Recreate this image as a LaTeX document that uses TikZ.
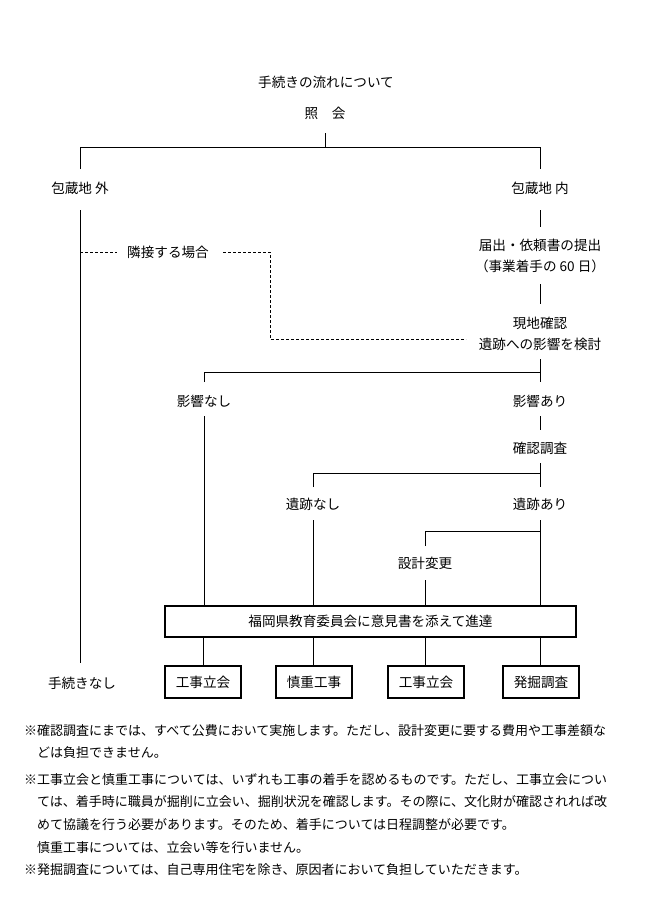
\documentclass[tikz,border=0pt]{standalone}
\usepackage{fontspec}
\setmainfont{Noto Sans CJK JP}
\newfontfamily\jp{Noto Sans CJK JP}
\begin{document}
\begin{tikzpicture}[x=1pt,y=-1pt,
  lab/.style={inner sep=0pt,font=\fontsize{13.6}{13.6}\selectfont\jp},
  box/.style={draw,line width=1.8pt,inner sep=0pt,font=\fontsize{13.6}{13.6}\selectfont\jp},
  note/.style={anchor=west,inner sep=0pt,font=\fontsize{13}{13}\selectfont\jp},
  ln/.style={line width=0.9pt},
  dsh/.style={line width=0.9pt,dash pattern=on 3pt off 2pt}]
\useasboundingbox (0,0) rectangle (650,908);
\fill[white] (0,0) rectangle (650,908);
\node[lab] (title) at (326,82) {手続きの流れについて};
\node[lab] (shokai) at (325,113) {照\hspace{1em}会};
\node[lab] (soto) at (80,188) {包蔵地 外};
\node[lab] (uchi) at (540,188) {包蔵地 内};
\node[lab,align=center] (todoke) at (540,256) {届出・依頼書の提出\\[8pt]（事業着手の 60 日）};
\node[lab,align=center] (genchi) at (540,334) {現地確認\\[8pt]遺跡への影響を検討};
\node[lab] (rinsetsu) at (168,252) {隣接する場合};
\node[lab] (einashi) at (204,401) {影響なし};
\node[lab] (eiari) at (540,401) {影響あり};
\node[lab] (kakunin) at (540,448) {確認調査};
\node[lab] (iseki0) at (313,504) {遺跡なし};
\node[lab] (iseki1) at (540,504) {遺跡あり};
\node[lab] (sekkei) at (425,563) {設計変更};
\node[lab] (nashi) at (82,683) {手続きなし};
\node[box,minimum width=411pt,minimum height=31pt] (shintatsu) at (370.5,621.5) {福岡県教育委員会に意見書を添えて進達};
\node[box,minimum width=76pt,minimum height=32pt] (b1) at (203,682) {工事立会};
\node[box,minimum width=76pt,minimum height=32pt] (b2) at (314,682) {慎重工事};
\node[box,minimum width=76pt,minimum height=32pt] (b3) at (426,682) {工事立会};
\node[box,minimum width=76pt,minimum height=32pt] (b4) at (541,682) {発掘調査};
% connectors
\coordinate (t0) at (325,147);
\draw[ln] (325,133) -- (t0);
\draw[ln] (80,169) -- (80,147) -- (540,147) -- (540,169);
\draw[ln] (80,210) -- (80,663);
\draw[ln] (540,210) -- (540,227);
\draw[ln] (540,284) -- (540,304);
\draw[dsh] (80,252) -- (117,252);
\draw[dsh] (223,252) -- (270,252) -- (270,339) -- (466,339);
\draw[ln] (540,359) -- (540,382);
\draw[ln] (204,382) -- (204,372) -- (540,372);
\draw[ln] (204,416) -- (shintatsu.north -| 204,0);
\draw[ln] (540,416) -- (540,430);
\draw[ln] (540,463) -- (540,487);
\draw[ln] (313,487) -- (313,473) -- (540,473);
\draw[ln] (313,520) -- (shintatsu.north -| 313,0);
\draw[ln] (540,520) -- (shintatsu.north -| 540,0);
\draw[ln] (425,546) -- (425,531) -- (540,531);
\draw[ln] (425,580) -- (shintatsu.north -| 425,0);
\draw[ln] (shintatsu.south -| b1.north) -- (b1.north);
\draw[ln] (shintatsu.south -| 313,0) -- (b2.north -| 313,0);
\draw[ln] (shintatsu.south -| 425,0) -- (b3.north -| 425,0);
\draw[ln] (shintatsu.south -| 540,0) -- (b4.north -| 540,0);
% notes
\node[note] (n1) at (24,731) {※確認調査にまでは、すべて公費において実施します。ただし、設計変更に要する費用や工事差額な};
\node[note] (n2) at (37,753) {どは負担できません。};
\node[note] (n3) at (24,780) {※工事立会と慎重工事については、いずれも工事の着手を認めるものです。ただし、工事立会につい};
\node[note] (n4) at (37,802) {ては、着手時に職員が掘削に立会い、掘削状況を確認します。その際に、文化財が確認されれば改};
\node[note] (n5) at (37,825) {めて協議を行う必要があります。そのため、着手については日程調整が必要です。};
\node[note] (n6) at (37,848) {慎重工事については、立会い等を行いません。};
\node[note] (n7) at (24,870) {※発掘調査については、自己専用住宅を除き、原因者において負担していただきます。};
\end{tikzpicture}
\end{document}
